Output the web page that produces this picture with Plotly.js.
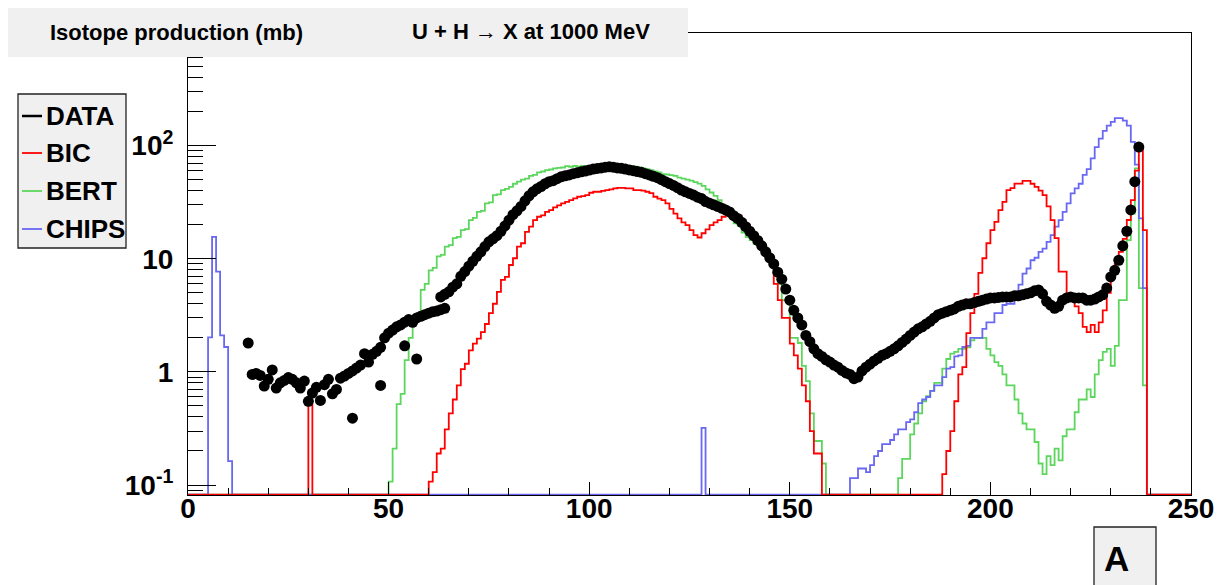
<!DOCTYPE html>
<html>
<head>
<meta charset="utf-8">
<script src="https://cdn.plot.ly/plotly-3.0.1.min.js"></script>
<style>html,body{margin:0;padding:0;background:#fff;}#chart{width:1225px;height:585px;}</style>
</head>
<body>
<div id="chart"></div>
<script>
// ---------------- DATA ----------------
const xTickVals = [0, 50, 100, 150, 200, 250];
const yTickVals = [0.1, 1, 10, 100];
const yTickText = ['10<sup>-1</sup>', '1', '10', '10<sup>2</sup>'];
const seriesNames = ['DATA', 'BIC', 'BERT', 'CHIPS'];

// measured points (A from 15 to 237, one per A)
const dataStart = 15;
const dataMain = [
 1.80,0.95,0.97,0.93,0.75,0.86,1.04,0.72,0.80,0.84, // 15-24
 0.89,0.86,0.80,0.72,0.83,0.55,0.65,0.73,0.56,0.77, // 25-34
 0.86,0.64,0.70,0.88,0.92,0.97,1.02,1.08,1.15,1.45, // 35-44
 1.22,1.43,1.52,1.65,2.0,2.2,2.34,2.5,2.6,2.75,     // 45-54
 2.9,2.74,3.0,3.1,3.2,3.3,3.4,3.45,3.55,3.65,       // 55-64
 5.1,5.6,6.0,7.0,7.7,8.6,9.5,10.5,11.5,12.8,        // 65-74
 14.1,15.0,16.0,17.5,19.5,21.9,24.5,26.5,29,32.5,   // 75-84
 36,39,41.5,43.5,46,48,49,51,53,54,                 // 85-94
 55,56.5,57.5,58.6,59.5,60.7,62,62.8,63.5,64.5,     // 95-104
 65,64.5,63.5,63,62,61,60,59,58,56.5,               // 105-114
 55,53.5,52,50,48,46.2,44.5,42.5,40.5,39,           // 115-124
 37.8,36.5,35,34,32,31,30,29,28,27,                 // 125-134
 25.9,24,22.7,21,19.2,17.5,16,14.5,13,11.5,         // 135-144
 10.2,9.0,7.6,6.6,5.4,4.3,3.5,3.0,2.6,2.1,          // 145-154
 1.85,1.6,1.45,1.37,1.28,1.22,1.15,1.1,1.03,0.98,   // 155-164
 0.95,0.87,0.9,1.02,1.1,1.17,1.25,1.32,1.4,1.45,    // 165-174
 1.52,1.6,1.7,1.82,1.95,2.1,2.25,2.4,2.5,2.65,      // 175-184
 2.8,3.0,3.2,3.3,3.4,3.5,3.6,3.8,3.9,4.0,           // 185-194
 4.0,4.1,4.2,4.3,4.4,4.5,4.5,4.55,4.6,4.6,          // 195-204
 4.6,4.7,4.7,4.8,4.9,5.0,5.2,5.3,4.9,4.2,           // 205-214
 3.9,3.65,3.8,4.3,4.5,4.6,4.5,4.5,4.5,4.3,          // 215-224
 4.3,4.4,4.6,4.8,5.5,6.9,7.9,9.7,13,17.5,           // 225-234
 27,48,97                                           // 235-237
];
// extra points lying off the main band
const dataExtraA  = [41, 48, 54, 57, 63, 64];
const dataExtraXS = [0.39, 0.76, 1.7, 1.3, 4.6, 4.85];

// Histograms: bin contents, bin n covers [n, n+1]; [first bin, contents]
const bicLow = [30, [0.52]];
const bicMid = [60, [
 0.107,0.13,0.19,0.21,0.31,0.43,0.57,0.76,1.06,1.18,   // 60-69
 1.55,1.78,1.97,2.25,2.65,3.3,4.0,5.1,6.5,6.9,         // 70-79
 8.8,10.1,12.8,13.7,17.3,19.2,21.9,23.5,24.2,25.9,     // 80-89
 26.9,28.4,29.6,30.8,31.8,33,34.1,35.3,35.8,36.5,      // 90-99
 38.3,39.1,39.1,39.8,40.4,41,41.8,42.3,42.3,41.8,      // 100-109
 41.8,40.4,40.4,40,39.1,38,35.3,34,33,30.8,            // 110-119
 27.6,25,22.7,21,19.8,17.9,16.2,15.4,16.8,18.2,        // 120-129
 19.8,21,21.9,23.5,24.2,25,24.5,24,22,20,              // 130-139
 18,16.5,15,13,11,9,6.0,4.3,3.0,3.0,                   // 140-149
 1.78,1.4,1.07,0.76,0.55,0.30,0.19,0.19                // 150-157
]];
const bicHigh = [188, [
 0.125,0.2,0.3,0.55,0.95,1.1,2.2,3.3,4.9,7.5,          // 188-197
 10.1,13.7,17.9,21.2,26.9,31.8,40.4,42,46.2,46.2,      // 198-207
 48.8,48.8,46,43.2,40,36.5,29,21.9,15.2,7.7,           // 208-217
 7.7,4.9,4.9,3.8,3.3,2.5,2.25,2.6,2.25,2.74,           // 218-227
 3.5,5.0,6.9,9,11.5,15,22,33,60,97,                    // 228-237
 17.9                                                  // 238
]];

const bertMid = [50, [
 0.107,0.21,0.52,0.64,1.27,2.0,3.0,3.3,5.3,6.0,        // 50-59
 7.9,8.3,10.5,10.8,12.8,13.2,15.2,15.6,17.9,18.3,      // 60-69
 21.9,23,25.9,26.5,30.8,31.5,36.5,37,40.4,41.5,        // 70-79
 43.2,46,48,50,51,54,55,58,59,60.7,                    // 80-89
 61.5,62.8,63.5,64,65.8,65,66,65,66,65.5,              // 90-99
 66,65.5,66,65.5,66,65.5,66,65.5,66,65.5,              // 100-109
 65.5,65,64,63,62,60.7,59,58,56,55.5,                  // 110-119
 54.8,54,52,51,50,49,47.5,46.2,44,41,                  // 120-129
 38.5,36,33,30,27,23.5,20.5,19.6,17,15.5,              // 130-139
 14.6,13.5,12.8,11,10.3,9,7.7,6.0,4.3,4.3,             // 140-149
 2.0,2.0,1.8,1.13,0.83,0.43,0.245,0.245,0.155          // 150-158
]];
const bertHigh = [177, [
 0.115,0.17,0.17,0.28,0.35,0.43,0.55,0.61,0.68,0.8,    // 177-186
 0.8,1.07,1.3,1.45,1.5,1.6,1.6,1.65,1.9,2.0,           // 187-196
 2.0,2.0,1.6,1.4,1.22,1.13,0.95,0.76,0.76,0.57,        // 197-206
 0.43,0.35,0.31,0.31,0.24,0.155,0.125,0.18,0.15,0.21,  // 207-216
 0.165,0.27,0.31,0.31,0.44,0.57,0.57,0.70,0.6,0.95,    // 217-226
 1.27,1.5,1.6,1.13,1.7,4.3,4.3,14.6,25,63,             // 227-236
 5.5,0.76                                              // 237-238
]];

const chipsLow = [5, [2.02, 15.6, 7.7, 2.1, 1.66, 0.163]];
const chipsMid = [128, [0.32]];
const chipsHigh = [165, [
 0.115,0.115,0.14,0.14,0.13,0.15,0.18,0.2,0.23,0.23,   // 165-174
 0.25,0.28,0.31,0.31,0.36,0.38,0.44,0.53,0.57,0.60,    // 175-184
 0.68,0.76,0.76,0.9,1.07,1.1,1.37,1.4,1.66,1.7,        // 185-194
 2.0,2.0,2.0,2.4,2.74,2.74,3.3,3.3,3.9,4.0,            // 195-204
 4.0,4.9,5.9,7.4,8.2,9.7,10.2,11.5,12.3,14.1,          // 205-214
 16.2,19.2,21.9,25.9,30.8,37.8,41.8,46,55,62,          // 215-224
 77,97,115,135,150,162,175,175,166,150,                // 225-234
 108,68,22.7,5.5                                       // 235-238
]];

// ---------------- BUILD ----------------
const NBINS = 250;
const Y_RANGE = [-1.088, 2.995];
const FLOOR = Math.pow(10, Y_RANGE[0] + 0.004);

function buildHist(segments) {
  const c = new Array(NBINS).fill(0);
  segments.forEach(([s, vals]) => vals.forEach((v, i) => { c[s + i] = v; }));
  const x = [], y = [];
  for (let i = 0; i < NBINS; i++) { x.push(i); y.push(c[i] > 0 ? c[i] : FLOOR); }
  x.push(NBINS); y.push(y[NBINS - 1]);
  return {x, y};
}

const dataA = [], dataXS = [];
dataMain.forEach((v, i) => { dataA.push(dataStart + i); dataXS.push(v); });
dataExtraA.forEach((a, i) => { dataA.push(a); dataXS.push(dataExtraXS[i]); });

const COL = {DATA: '#000000', BIC: '#ff0000', BERT: '#5cd65c', CHIPS: '#6868f2'};
const FONT = 'Liberation Sans, Arial, Helvetica, sans-serif';

function histTrace(name, segs) {
  const h = buildHist(segs);
  return {x: h.x, y: h.y, type: 'scatter', mode: 'lines', name: name,
          line: {shape: 'hv', color: COL[name], width: 1.8}, showlegend: false, hoverinfo: 'skip'};
}

const traces = [
  histTrace('BERT', [bertMid, bertHigh]),
  histTrace('CHIPS', [chipsLow, chipsMid, chipsHigh]),
  histTrace('BIC', [bicLow, bicMid, bicHigh]),
  {x: dataA, y: dataXS, type: 'scatter', mode: 'markers', name: 'DATA',
   marker: {color: 'black', size: 11, symbol: 'circle', line: {width: 0}}, showlegend: false}
];

// minor log ticks 2..9 x decade
const minorY = [];
for (let k = -2; k <= 2; k++) for (let m = 2; m <= 9; m++) {
  const v = m * Math.pow(10, k);
  const lv = Math.log10(v);
  if (lv > Y_RANGE[0] && lv < Y_RANGE[1]) minorY.push(v);
}

// layout geometry (pixels)
const W = 1225, H = 585;
const PL = 188, PR = 1191, PT = 33, PB = 495;
const px2x = p => (p - PL) / (PR - PL);
const py2y = p => (PB - p) / (PB - PT);

const shapes = [];
const annotations = [];

// title pave
shapes.push({type: 'rect', xref: 'paper', yref: 'paper', x0: px2x(8), x1: px2x(688), y0: py2y(57), y1: py2y(8),
             fillcolor: '#f0f0f0', line: {width: 0}, layer: 'above'});
annotations.push({xref: 'paper', yref: 'paper', x: px2x(410), y: py2y(32), xanchor: 'left', yanchor: 'middle',
                  text: 'U + H \u2192 X at 1000 MeV', showarrow: false,
                  font: {family: FONT, size: 22, weight: 'bold', color: 'black'}});

// legend pave
shapes.push({type: 'rect', xref: 'paper', yref: 'paper', x0: px2x(18), x1: px2x(126), y0: py2y(248), y1: py2y(94),
             fillcolor: '#f0f0f0', line: {width: 1.3, color: '#222'}, layer: 'above'});
const legendY = [116, 153, 191, 229];
seriesNames.forEach((n, i) => {
  shapes.push({type: 'line', xref: 'paper', yref: 'paper', x0: px2x(22), x1: px2x(42),
               y0: py2y(legendY[i]), y1: py2y(legendY[i]), line: {color: COL[n], width: n === 'DATA' ? 2.5 : 1.8}, layer: 'above'});
  annotations.push({xref: 'paper', yref: 'paper', x: px2x(44), y: py2y(legendY[i]), xanchor: 'left', yanchor: 'middle',
                    text: n, showarrow: false, font: {family: FONT, size: 26, weight: 'bold', color: 'black'}});
});

// axis label pave "A"
shapes.push({type: 'rect', xref: 'paper', yref: 'paper', x0: px2x(1094), x1: px2x(1156), y0: py2y(605), y1: py2y(527),
             fillcolor: '#f0f0f0', line: {width: 1.3, color: '#222'}, layer: 'above'});
annotations.push({xref: 'paper', yref: 'paper', x: px2x(1102), y: py2y(558), xanchor: 'left', yanchor: 'middle',
                  text: 'A', showarrow: false, font: {family: FONT, size: 35, weight: 'bold', color: 'black'}});

const layout = {
  width: W, height: H,
  margin: {l: PL, r: W - PR, t: PT, b: H - PB, pad: 0},
  paper_bgcolor: 'white', plot_bgcolor: 'white',
  showlegend: false,
  title: {text: 'Isotope production (mb)', xref: 'container', yref: 'container',
          x: 50 / W, xanchor: 'left', y: 1 - 32 / H, yanchor: 'middle',
          font: {family: FONT, size: 22, weight: 'bold', color: 'black'}},
  xaxis: {range: [0, 250], showline: true, mirror: true, linecolor: 'black', linewidth: 1,
          showgrid: false, zeroline: false, ticks: 'inside', ticklen: 13, tickwidth: 1, tickcolor: 'black',
          tickmode: 'array', tickvals: xTickVals, ticktext: xTickVals.map(String),
          tickfont: {family: FONT, size: 28, weight: 'bold', color: 'black'},
          ticklabelstandoff: -12,
          minor: {ticks: 'inside', ticklen: 7, tickwidth: 1, tickcolor: 'black', tickmode: 'linear', tick0: 0, dtick: 10, showgrid: false}},
  yaxis: {type: 'log', range: Y_RANGE, showline: true, mirror: true, linecolor: 'black', linewidth: 1,
          showgrid: false, zeroline: false, ticks: 'inside', ticklen: 28, tickwidth: 1, tickcolor: 'black',
          tickmode: 'array', tickvals: yTickVals, ticktext: yTickText,
          tickfont: {family: FONT, size: 28, weight: 'bold', color: 'black'},
          ticklabelstandoff: 8,
          minor: {ticks: 'inside', ticklen: 15, tickwidth: 1, tickcolor: 'black', tickmode: 'array', tickvals: minorY, showgrid: false}},
  shapes: shapes,
  annotations: annotations
};

Plotly.newPlot('chart', traces, layout, {staticPlot: true, displayModeBar: false});
</script>
</body>
</html>
